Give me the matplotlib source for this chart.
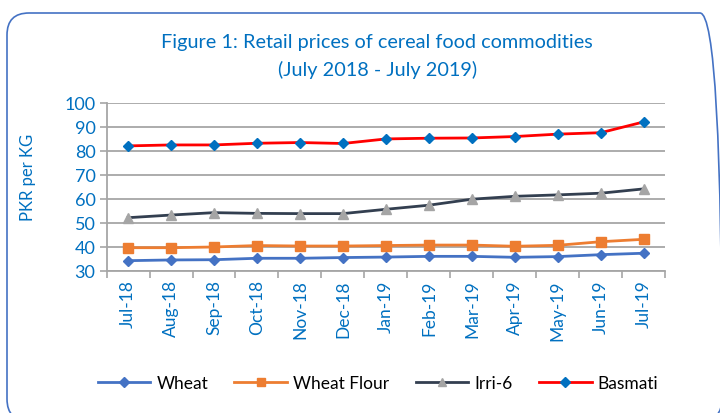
import matplotlib
matplotlib.use("Agg")
import matplotlib.pyplot as plt
from matplotlib.patches import FancyBboxPatch

# data
months = ['Jul-18', 'Aug-18', 'Sep-18', 'Oct-18', 'Nov-18', 'Dec-18', 'Jan-19',
          'Feb-19', 'Mar-19', 'Apr-19', 'May-19', 'Jun-19', 'Jul-19']
wheat = [34.3, 34.6, 34.7, 35.3, 35.3, 35.6, 35.8, 36.1, 36.1, 35.7, 36.0, 36.8, 37.4]
wheat_flour = [39.7, 39.7, 40.0, 40.6, 40.4, 40.4, 40.6, 40.8, 40.8, 40.3, 40.7, 42.2, 43.2]
irri6 = [52.2, 53.3, 54.3, 54.0, 53.9, 53.9, 55.7, 57.4, 59.9, 61.1, 61.7, 62.4, 64.2]
basmati = [82.1, 82.5, 82.5, 83.2, 83.5, 83.1, 85.0, 85.3, 85.4, 86.0, 87.0, 87.6, 92.1]

blue_txt = '#0070C0'
plt.rcParams['font.family'] = ['Lato', 'DejaVu Sans']

fig = plt.figure(figsize=(7.2, 4.14), dpi=100)
ax = fig.add_axes([0.148, 0.343, 0.776, 0.406])

x = range(len(months))
ax.plot(x, wheat, color='#4472C4', lw=2, marker='D', ms=5.5, mfc='#4472C4', mec='#4472C4', label='Wheat')
ax.plot(x, wheat_flour, color='#ED7D31', lw=2, marker='s', ms=6.5, mfc='#ED7D31', mec='#ED7D31', label='Wheat Flour')
ax.plot(x, irri6, color='#333F50', lw=2, marker='^', ms=7, mfc='#A5A5A5', mec='#A5A5A5', label='Irri-6')
ax.plot(x, basmati, color='#FF0000', lw=2, marker='D', ms=5.5, mfc=blue_txt, mec=blue_txt, label='Basmati')

ax.set_xlim(-0.5, len(months) - 0.5)
ax.set_ylim(30, 100)
ax.set_yticks(range(30, 101, 10))
ax.yaxis.grid(True, color='#A6A6A6', lw=1.3)
ax.set_axisbelow(True)

# category axis: ticks at boundaries, labels centred
ax.set_xticks([i - 0.5 for i in range(len(months) + 1)])
ax.set_xticklabels([])
ax.set_xticks(list(x), minor=True)
ax.set_xticklabels(months, minor=True, rotation=90, color=blue_txt, fontsize=12.5)
ax.tick_params(axis='x', which='major', length=5, color='#A6A6A6', width=1.2)
ax.tick_params(axis='x', which='minor', length=0, pad=6)
ax.tick_params(axis='y', length=5, color='#A6A6A6', width=1.2, labelcolor=blue_txt, labelsize=13, pad=3)

for s in ['top', 'right']:
    ax.spines[s].set_visible(False)
for s in ['left', 'bottom']:
    ax.spines[s].set_color('#A6A6A6')
    ax.spines[s].set_linewidth(1.3)

ax.set_ylabel('PKR per KG', color=blue_txt, fontsize=12)
ax.yaxis.set_label_coords(-0.127, 0.56)

fig.text(0.524, 0.8635, 'Figure 1: Retail prices of cereal food commodities\n(July 2018 - July 2019)',
         ha='center', va='center', color=blue_txt, fontsize=14.3, linespacing=1.6)

fig.legend(loc='center', bbox_to_anchor=(0.525, 0.072), ncol=4, frameon=False,
           fontsize=12.5, handlelength=3.05, columnspacing=1.5, handletextpad=0.35,
           markerscale=0.85)

# rounded border of the chart area (pixel coords)
border = FancyBboxPatch((7, -8), 715, 408, boxstyle='round,pad=0,rounding_size=22',
                        fc='none', ec='#4472C4', lw=1.2, transform=None)
fig.patches.append(border)

fig.savefig('out.png', dpi=100)
